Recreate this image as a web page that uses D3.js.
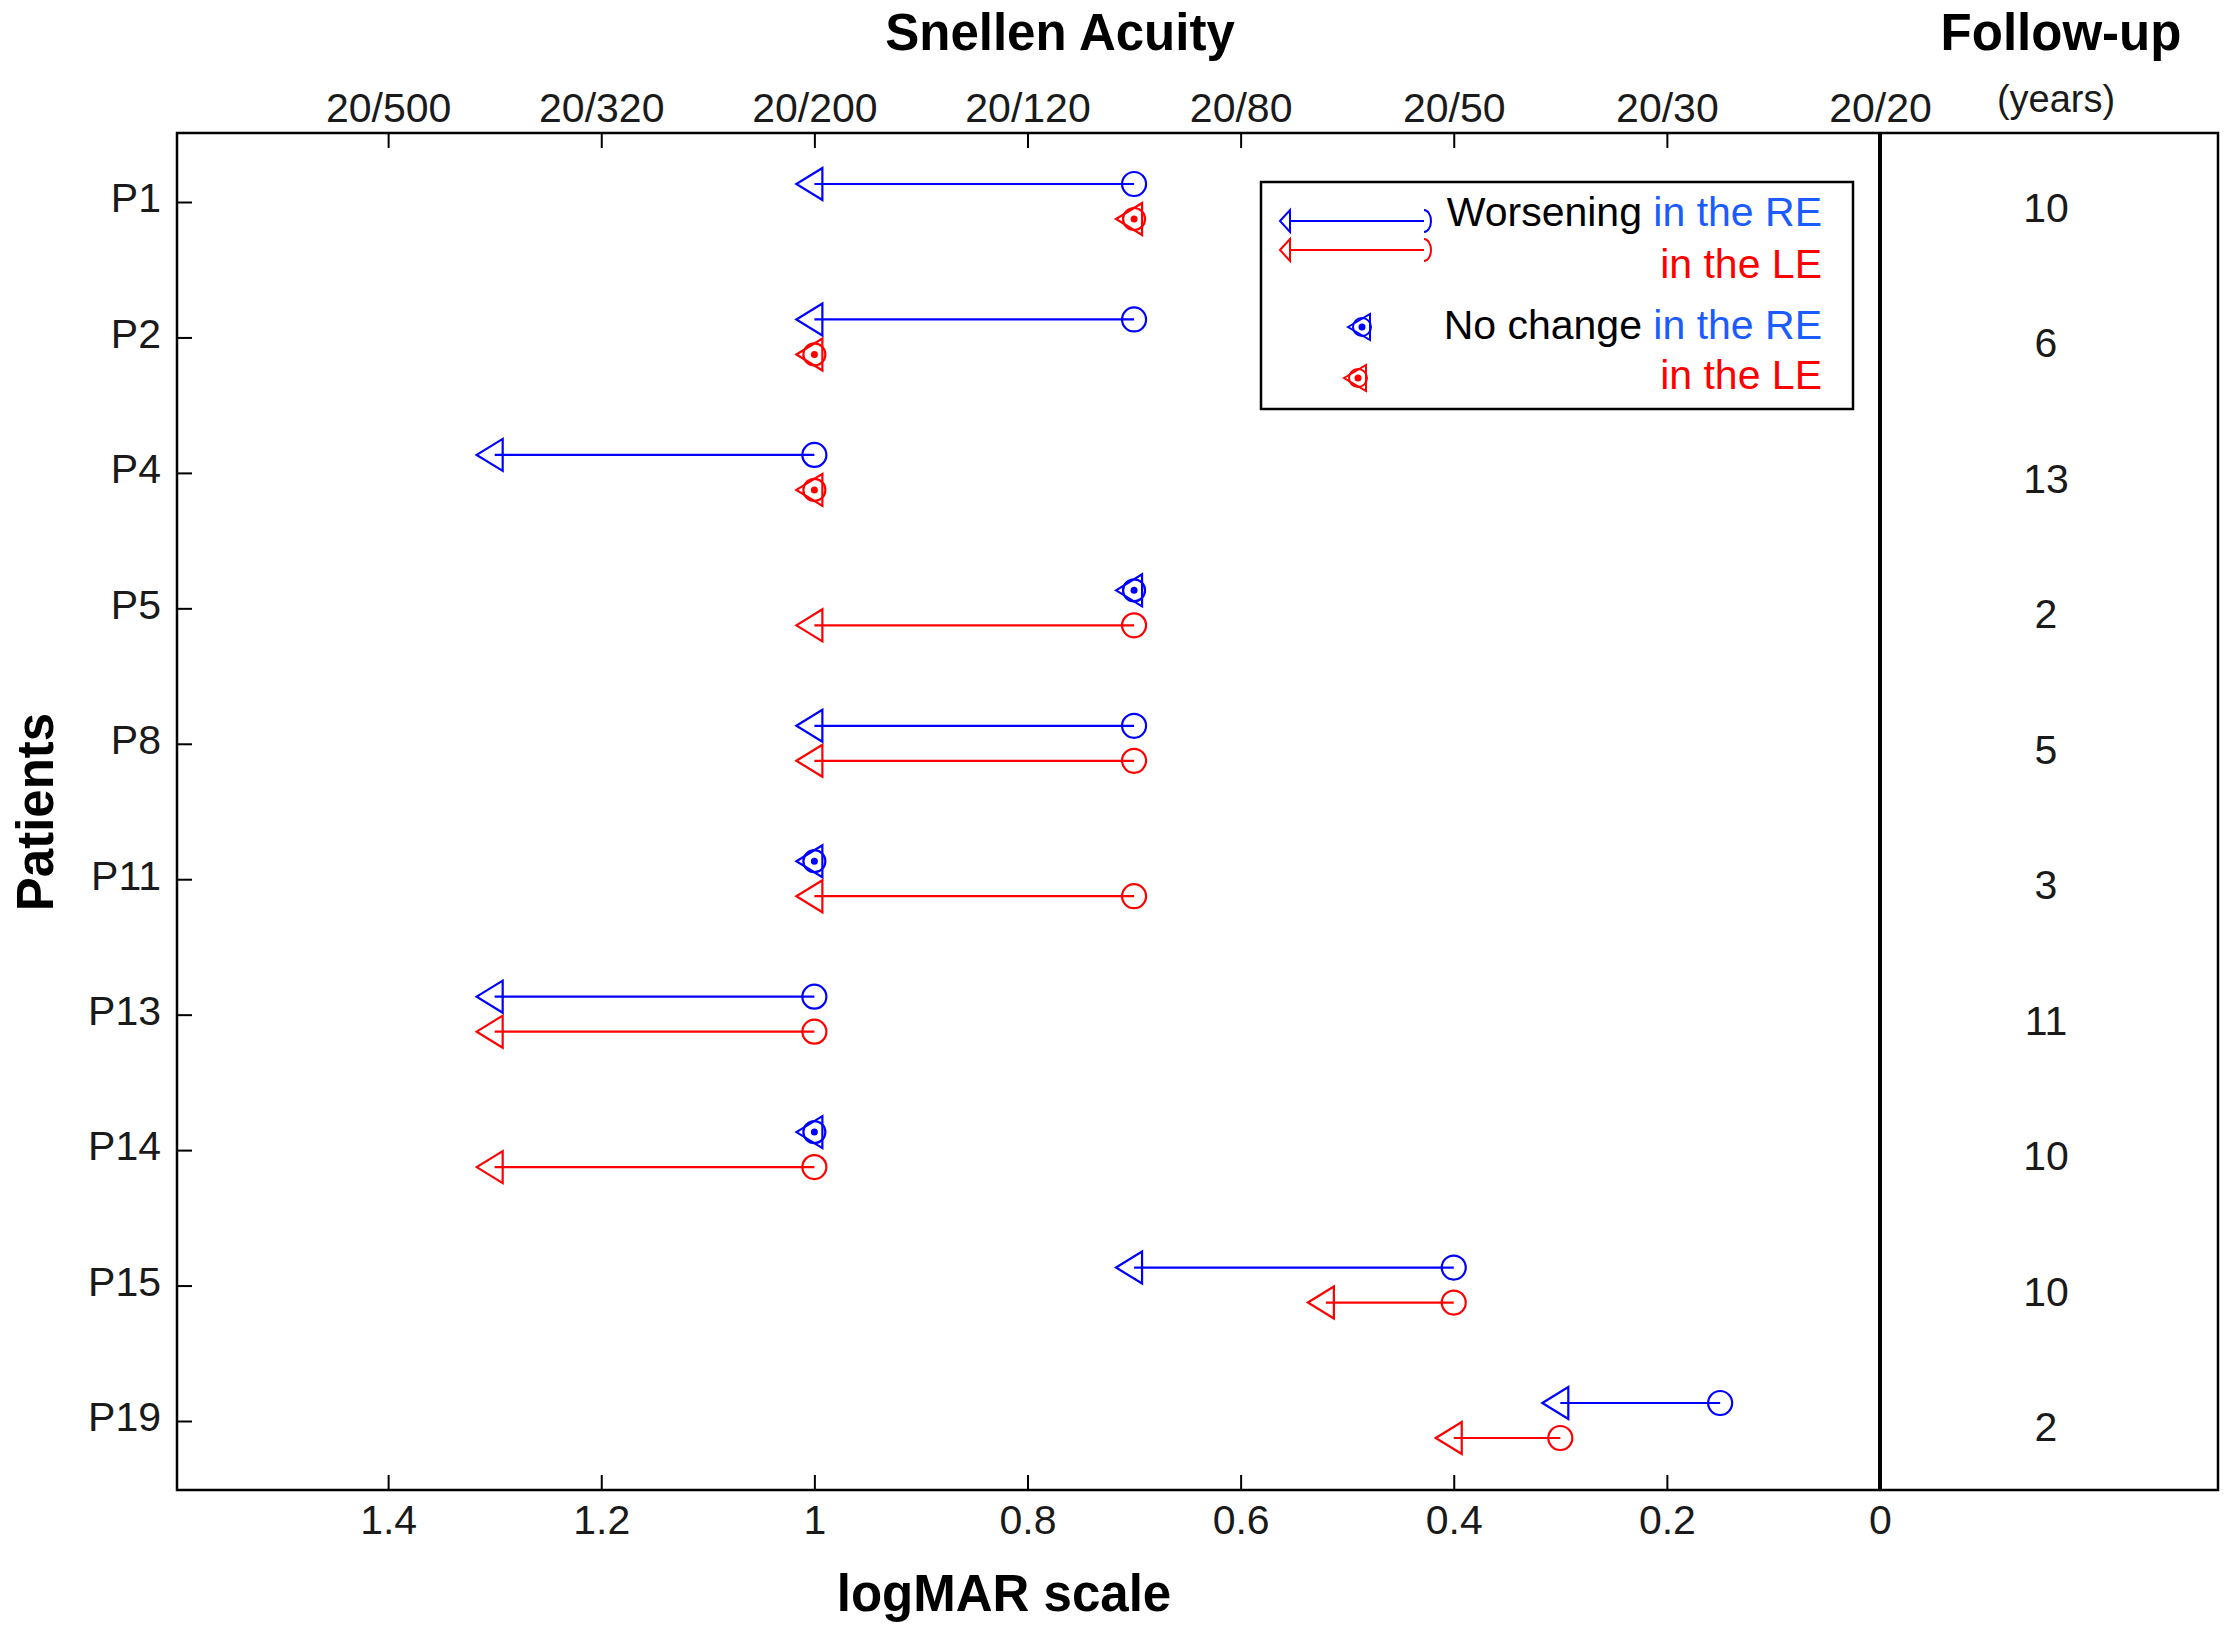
<!DOCTYPE html>
<meta charset="utf-8">
<script src="https://d3js.org/d3.v7.min.js"></script>
<style>
body { margin: 0; background: #fff; }
text { font-family: "Liberation Sans", Arial, sans-serif; }
</style>
<svg id="chart" width="2234" height="1633"></svg>
<script>
// patients and visual acuity (logMAR), first visit -> last visit
const patients = ["P1", "P2", "P4", "P5", "P8", "P11", "P13", "P14", "P15", "P19"];
const reStart = [0.7, 0.7, 1.0, 0.7, 0.7, 1.0, 1.0, 1.0, 0.4, 0.15];
const reEnd   = [1.0, 1.0, 1.3, 0.7, 1.0, 1.0, 1.3, 1.0, 0.7, 0.3];
const leStart = [0.7, 1.0, 1.0, 0.7, 0.7, 0.7, 1.0, 1.0, 0.4, 0.3];
const leEnd   = [0.7, 1.0, 1.0, 1.0, 1.0, 1.0, 1.3, 1.3, 0.52, 0.4];
const followUp = [10, 6, 13, 2, 5, 3, 11, 10, 10, 2];

const logmarTicks = [1.4, 1.2, 1, 0.8, 0.6, 0.4, 0.2, 0];
const snellenLabels = ["20/500", "20/320", "20/200", "20/120", "20/80", "20/50", "20/30", "20/20"];

const blue = "#0000ff", red = "#ff0000";
const textBlue = "#1a5cff";

const svg = d3.select("#chart");

const mLeft = 177, mRight = 1880, mTop = 133, mBottom = 1490, panelRight = 2218;

const x = d3.scaleLinear().domain([1.6, 0]).range([175, mRight]);
const y = d3.scalePoint().domain(patients).range([202, 1421]);

const eyeOffset = { RE: -18, LE: 17 };

// build rows from the arrays
const rows = [];
patients.forEach((p, i) => {
  rows.push({ p, eye: "RE", color: blue, s: reStart[i], e: reEnd[i] });
  rows.push({ p, eye: "LE", color: red, s: leStart[i], e: leEnd[i] });
});

// axes
const fontSize = 41;
const bottomAxis = svg.append("g")
  .attr("transform", `translate(0,${mBottom})`)
  .call(d3.axisBottom(x).tickValues(logmarTicks).tickSize(-15).tickPadding(15).tickFormat(d3.format("")));
const topAxis = svg.append("g")
  .attr("transform", `translate(0,${mTop})`)
  .call(d3.axisTop(x).tickValues(logmarTicks).tickSize(-15).tickPadding(11)
    .tickFormat((d, i) => snellenLabels[i]));
const leftAxis = svg.append("g")
  .attr("transform", `translate(${mLeft},0)`)
  .call(d3.axisLeft(y).tickSize(-15).tickPadding(16));

[bottomAxis, topAxis, leftAxis].forEach(g => {
  g.select(".domain").remove();
  g.selectAll(".tick line").attr("stroke", "#000").attr("stroke-width", 2);
  g.selectAll(".tick text")
    .attr("fill", "#1a1a1a")
    .style("font-family", "'Liberation Sans', Arial, sans-serif")
    .style("font-size", fontSize + "px");
});
leftAxis.selectAll(".tick text").attr("dy", "0.24em");
// the 0 tick sits on the divider line
bottomAxis.selectAll(".tick line").filter(d => d === 0).remove();
topAxis.selectAll(".tick line").filter(d => d === 0).remove();

// frames
svg.append("rect")
  .attr("x", mLeft).attr("y", mTop)
  .attr("width", panelRight - mLeft).attr("height", mBottom - mTop)
  .attr("fill", "none").attr("stroke", "#000").attr("stroke-width", 2.5);
svg.append("line")
  .attr("x1", mRight).attr("x2", mRight).attr("y1", mTop).attr("y2", mBottom)
  .attr("stroke", "#000").attr("stroke-width", 4);

// markers
function triangle(cx, cy) {
  return `M${cx - 18},${cy} L${cx + 8},${cy - 16} L${cx + 8},${cy + 16} Z`;
}

const marks = svg.append("g");
const changed = rows.filter(d => d.s !== d.e);
const same = rows.filter(d => d.s === d.e);

marks.selectAll("line.arrow")
  .data(changed)
  .join("line")
    .attr("class", "arrow")
    .attr("x1", d => x(d.s)).attr("x2", d => x(d.e))
    .attr("y1", d => y(d.p) + eyeOffset[d.eye]).attr("y2", d => y(d.p) + eyeOffset[d.eye])
    .attr("stroke", d => d.color).attr("stroke-width", 2.2);

marks.selectAll("circle.start")
  .data(changed)
  .join("circle")
    .attr("class", "start")
    .attr("cx", d => x(d.s)).attr("cy", d => y(d.p) + eyeOffset[d.eye])
    .attr("r", 12)
    .attr("fill", "none").attr("stroke", d => d.color).attr("stroke-width", 2.2);

marks.selectAll("path.end")
  .data(changed)
  .join("path")
    .attr("class", "end")
    .attr("d", d => triangle(x(d.e), y(d.p) + eyeOffset[d.eye]))
    .attr("fill", "none").attr("stroke", d => d.color).attr("stroke-width", 2.2);

// no change: circle + triangle + dot overlap
const nc = marks.selectAll("g.same")
  .data(same)
  .join("g")
    .attr("class", "same")
    .attr("transform", d => `translate(${x(d.s)},${y(d.p) + eyeOffset[d.eye]})`);
nc.append("circle").attr("r", 11)
  .attr("fill", "none").attr("stroke", d => d.color).attr("stroke-width", 2.2);
nc.append("path").attr("d", triangle(0, 0))
  .attr("fill", "none").attr("stroke", d => d.color).attr("stroke-width", 2.2);
nc.append("circle").attr("r", 3.5).attr("fill", d => d.color);

// follow-up column
svg.append("g").selectAll("text")
  .data(patients)
  .join("text")
    .attr("x", (mRight + panelRight) / 2 - 3)
    .attr("y", d => y(d) + 20)
    .attr("text-anchor", "middle")
    .attr("font-size", fontSize)
    .attr("fill", "#1a1a1a")
    .text((d, i) => followUp[i]);

// titles
svg.append("text").attr("x", 1060).attr("y", 50).attr("text-anchor", "middle")
  .attr("font-size", 51).attr("font-weight", "bold").text("Snellen Acuity");
svg.append("text").attr("x", 2061).attr("y", 50).attr("text-anchor", "middle")
  .attr("font-size", 51).attr("font-weight", "bold").text("Follow-up");
svg.append("text").attr("x", 2056).attr("y", 112).attr("text-anchor", "middle")
  .attr("font-size", 38).attr("fill", "#1a1a1a").text("(years)");
svg.append("text").attr("x", 1004).attr("y", 1611).attr("text-anchor", "middle")
  .attr("font-size", 51).attr("font-weight", "bold").text("logMAR scale");
svg.append("text").attr("transform", "translate(53,812) rotate(-90)")
  .attr("text-anchor", "middle")
  .attr("font-size", 51).attr("font-weight", "bold").text("Patients");

// legend
const legend = svg.append("g");
legend.append("rect")
  .attr("x", 1261).attr("y", 182).attr("width", 592).attr("height", 227)
  .attr("fill", "#fff").attr("stroke", "#000").attr("stroke-width", 2.5);

[{ c: blue, yy: 221 }, { c: red, yy: 250 }].forEach(o => {
  legend.append("line").attr("x1", 1290).attr("x2", 1424).attr("y1", o.yy).attr("y2", o.yy)
    .attr("stroke", o.c).attr("stroke-width", 2.2);
  legend.append("path").attr("d", `M1280,${o.yy} L1290,${o.yy - 11} L1290,${o.yy + 11} Z`)
    .attr("fill", "none").attr("stroke", o.c).attr("stroke-width", 2);
  legend.append("path").attr("d", `M1424,${o.yy - 11} A7,11 0 0 1 1424,${o.yy + 11}`)
    .attr("fill", "none").attr("stroke", o.c).attr("stroke-width", 2);
});
[{ c: blue, cx: 1362, cy: 327 }, { c: red, cx: 1358, cy: 378 }].forEach(o => {
  const g = legend.append("g").attr("transform", `translate(${o.cx},${o.cy})`);
  g.append("circle").attr("r", 9).attr("fill", "none").attr("stroke", o.c).attr("stroke-width", 2);
  g.append("path").attr("d", "M-14,0 L8,-13 L8,13 Z").attr("fill", "none").attr("stroke", o.c).attr("stroke-width", 2);
  g.append("circle").attr("r", 3.5).attr("fill", o.c);
});

const legendText = [
  { y: 226, black: "Worsening ", color: textBlue, rest: "in the RE" },
  { y: 278, black: "", color: red, rest: "in the LE" },
  { y: 339, black: "No change ", color: textBlue, rest: "in the RE" },
  { y: 389, black: "", color: red, rest: "in the LE" }
];
legendText.forEach(t => {
  const tx = legend.append("text").attr("x", 1822).attr("y", t.y)
    .attr("text-anchor", "end").attr("font-size", 41);
  tx.append("tspan").attr("fill", "#000").text(t.black);
  tx.append("tspan").attr("fill", t.color).text(t.rest);
});
</script>
